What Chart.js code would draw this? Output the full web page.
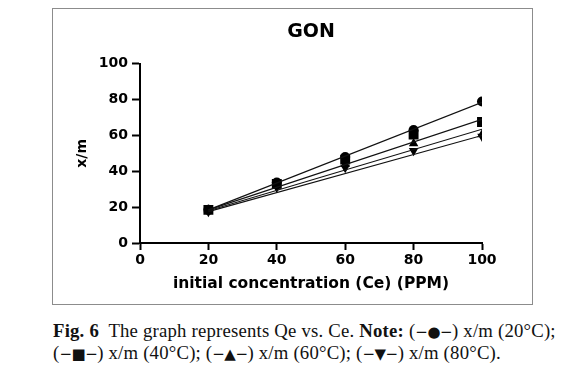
<!DOCTYPE html>
<html>
<head>
<meta charset="utf-8">
<script src="https://cdn.jsdelivr.net/npm/chart.js@4.4.1/dist/chart.umd.min.js"></script>
<style>
  html, body { margin: 0; padding: 0; background: #fff; }
  body { width: 574px; height: 389px; position: relative; overflow: hidden; }
  #frame { position: absolute; left: 52px; top: 8px; width: 481px; height: 297px; box-sizing: border-box; border: 1px solid #8c8c8c; }
  #wrap { position: absolute; left: 53px; top: 9px; width: 479px; height: 295px; }
  .cap { position: absolute; left: 53px; font-family: "Liberation Serif", "DejaVu Serif", serif; font-size: 17px; letter-spacing: 0.2px; color: #111; white-space: nowrap; line-height: 20px; }
  #cap1 { top: 321px; }
  #cap2 { top: 343px; }
  .sym { font-family: "DejaVu Sans", sans-serif; font-size: 0.8em; letter-spacing: -0.5px; }
</style>
</head>
<body>
<div id="frame"></div>
<div id="wrap"><canvas id="c" width="479" height="295"></canvas></div>
<div class="cap" id="cap1"><b>Fig. 6</b>&nbsp; The graph represents Qe vs. Ce. <b>Note:</b> (<span class="sym">−●−</span>) x/m (20°C);</div>
<div class="cap" id="cap2">(<span class="sym">−■−</span>) x/m (40°C); (<span class="sym">−▲−</span>) x/m (60°C); (<span class="sym">−▼−</span>) x/m (80°C).</div>
<script>
// ---- data ----
const xValues = [20, 40, 60, 80, 100];
const qe20 = [18.5, 33.7, 48, 63, 79];
const qe40 = [18.5, 33, 46.5, 60.5, 67.5];
const qe60 = [18.5, 32, 44, 55.5, 60.5];
const qe80 = [17.5, 31, 42, 51.5, 59.5];
// fitted (regression) lines, read at their end points
const fitX = [20, 100];
const fit20 = [18.5, 78.5];
const fit40 = [18.5, 69];
const fit60 = [18, 63.5];
const fit80 = [17.5, 60];
const yTicks = [0, 20, 40, 60, 80, 100];
const xTicks = [0, 20, 40, 60, 80, 100];
const seriesNames = ['x/m (20°C)', 'x/m (40°C)', 'x/m (60°C)', 'x/m (80°C)'];

// fit caption width to the reference line length
(function () {
  const c1 = document.getElementById('cap1');
  const c2 = document.getElementById('cap2');
  const w = c1.getBoundingClientRect().width;
  const fs = 17 * 504 / w;
  c1.style.fontSize = fs + 'px';
  c2.style.fontSize = fs + 'px';
})();

const pts = (xs, ys) => xs.map((x, i) => ({ x: x, y: ys[i] }));

const markerSets = [
  { data: qe20, style: 'circle', r: 5, rot: 0 },
  { data: qe40, style: 'rect', r: 7, rot: 0 },
  { data: qe60, style: 'triangle', r: 5.5, rot: 0 },
  { data: qe80, style: 'triangle', r: 5.5, rot: 180 }
];
const fitSets = [fit20, fit40, fit60, fit80];

const datasets = [];
fitSets.forEach((f, i) => {
  datasets.push({
    label: seriesNames[i] + ' fit',
    data: pts(fitX, f),
    showLine: true,
    borderColor: '#111',
    borderWidth: 1.2,
    pointRadius: 0,
    fill: false
  });
});
markerSets.forEach((m, i) => {
  datasets.push({
    label: seriesNames[i],
    data: pts(xValues, m.data),
    showLine: false,
    pointStyle: m.style,
    pointRadius: m.r,
    pointRotation: m.rot,
    backgroundColor: '#000',
    borderColor: '#000',
    borderWidth: 0
  });
});

const tickFont = { family: 'DejaVu Sans', weight: 'bold', size: 14 };

new Chart(document.getElementById('c'), {
  type: 'scatter',
  data: { datasets: datasets },
  options: {
    responsive: false,
    animation: false,
    events: [],
    layout: { padding: { left: 0, right: 50, top: 0, bottom: 0 } },
    plugins: {
      legend: { display: false },
      tooltip: { enabled: false },
      title: {
        display: true,
        text: 'GON',
        fullSize: false,
        color: '#000',
        font: { family: 'DejaVu Sans', weight: 'bold', size: 19, lineHeight: 1.2 },
        padding: { top: 12, bottom: 20 }
      }
    },
    scales: {
      x: {
        type: 'linear',
        min: 0, max: 100,
        afterBuildTicks: (s) => { s.ticks = xTicks.map(v => ({ value: v })); },
        afterFit: (s) => { s.height = 61; },
        border: { display: true, color: '#000', width: 2 },
        grid: { display: true, drawOnChartArea: false, drawTicks: true, tickLength: 7, tickWidth: 2, tickColor: '#000', color: '#000' },
        ticks: { color: '#000', font: tickFont, padding: 2, maxRotation: 0 },
        title: {
          display: true,
          text: 'initial concentration (Ce) (PPM)',
          color: '#000',
          font: { family: 'DejaVu Sans', weight: 'bold', size: 15.5, lineHeight: 1.2 },
          padding: { top: 0, bottom: 11 }
        }
      },
      y: {
        type: 'linear',
        min: 0, max: 100,
        afterBuildTicks: (s) => { s.ticks = yTicks.map(v => ({ value: v })); },
        afterFit: (s) => { s.width = 87; },
        border: { display: true, color: '#000', width: 2 },
        grid: { display: true, drawOnChartArea: false, drawTicks: true, tickLength: 8, tickWidth: 2, tickColor: '#000', color: '#000' },
        ticks: { color: '#000', font: tickFont, padding: 4 },
        title: {
          display: true,
          text: 'x/m',
          color: '#000',
          font: { family: 'DejaVu Sans', weight: 'bold', size: 14, lineHeight: 1.2 },
          padding: { top: 21, bottom: 0 }
        }
      }
    }
  }
});
</script>
</body>
</html>
